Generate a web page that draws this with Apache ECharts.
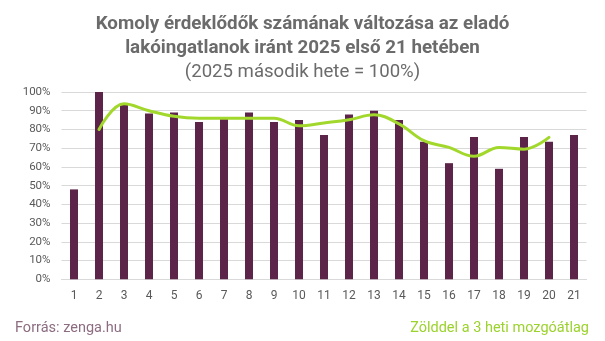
<!DOCTYPE html>
<html>
<head>
<meta charset="utf-8">
<script src="https://cdn.jsdelivr.net/npm/echarts@6/dist/echarts.min.js"></script>
<style>
  html, body { margin: 0; padding: 0; background: #fff; }
  #chart { width: 605px; height: 341px; }
</style>
</head>
<body>
<div id="chart"></div>
<script>
// Weeks of 2025
const weeks = ['1','2','3','4','5','6','7','8','9','10','11','12','13','14','15','16','17','18','19','20','21'];
// Serious enquiries, week 2 of 2025 = 100%
const weeklyIndex = [48, 100, 93, 88.5, 89, 84, 86, 89, 84, 85, 77, 88, 90, 85, 73.5, 62, 76, 59, 76, 73.5, 77];
// 3-week moving average (weeks 2–20)
const movingAvg = [null, 80, 93.7, 90, 87, 86, 86, 86, 86, 82, 83.5, 85.2, 87.8, 83, 74, 70.4, 65.7, 70.4, 69.5, 75.8, null];

const titleLines = ['Komoly érdeklődők számának változása az eladó', 'lakóingatlanok iránt 2025 első 21 hetében'];
const subtitle = '(2025 második hete = 100%)';
const sourceText = 'Forrás: zenga.hu';
const noteText = 'Zölddel a 3 heti mozgóátlag';

const chart = echarts.init(document.getElementById('chart'), null, { renderer: 'canvas' });
const font = 'Roboto, "Noto Sans", sans-serif';

chart.setOption({
  animation: false,
  backgroundColor: '#fff',
  textStyle: { fontFamily: font },
  title: [
    {
      text: titleLines.join('\n'),
      left: 'center', top: 7,
      textStyle: { fontFamily: font, fontSize: 18.8, fontWeight: 'bold', color: '#6b6b6b', lineHeight: 24 }
    },
    {
      text: subtitle,
      left: 'center', top: 58,
      textStyle: { fontFamily: font, fontSize: 18.6, fontWeight: 'normal', color: '#6b6b6b' }
    },
    {
      text: sourceText,
      left: 10, top: 316,
      textStyle: { fontFamily: font, fontSize: 14.5, fontWeight: 'normal', color: '#8c6c80' }
    },
    {
      text: noteText,
      right: 11, top: 316,
      textStyle: { fontFamily: font, fontSize: 14.5, fontWeight: 'normal', color: '#9bd22c' }
    }
  ],
  grid: { left: 61.5, right: 18.5, top: 92, bottom: 61.7 },
  xAxis: {
    type: 'category',
    data: weeks,
    axisLine: { lineStyle: { color: '#d9d9d9' } },
    axisTick: { show: false },
    axisLabel: { color: '#595959', fontSize: 12, margin: 11 }
  },
  yAxis: {
    type: 'value',
    min: 0, max: 100, interval: 10,
    axisLine: { show: false },
    axisTick: { show: false },
    axisLabel: { color: '#595959', fontSize: 11.5, margin: 11, formatter: '{value}%' },
    splitLine: { lineStyle: { color: '#d9d9d9', width: 1 } }
  },
  series: [
    {
      type: 'bar',
      data: weeklyIndex,
      barWidth: 8,
      itemStyle: { color: '#5c2448' }
    },
    {
      type: 'line',
      data: movingAvg,
      smooth: 0.4,
      symbol: 'none',
      connectNulls: false,
      lineStyle: { color: '#a2d82c', width: 3, cap: 'round' }
    }
  ]
});
</script>
</body>
</html>
